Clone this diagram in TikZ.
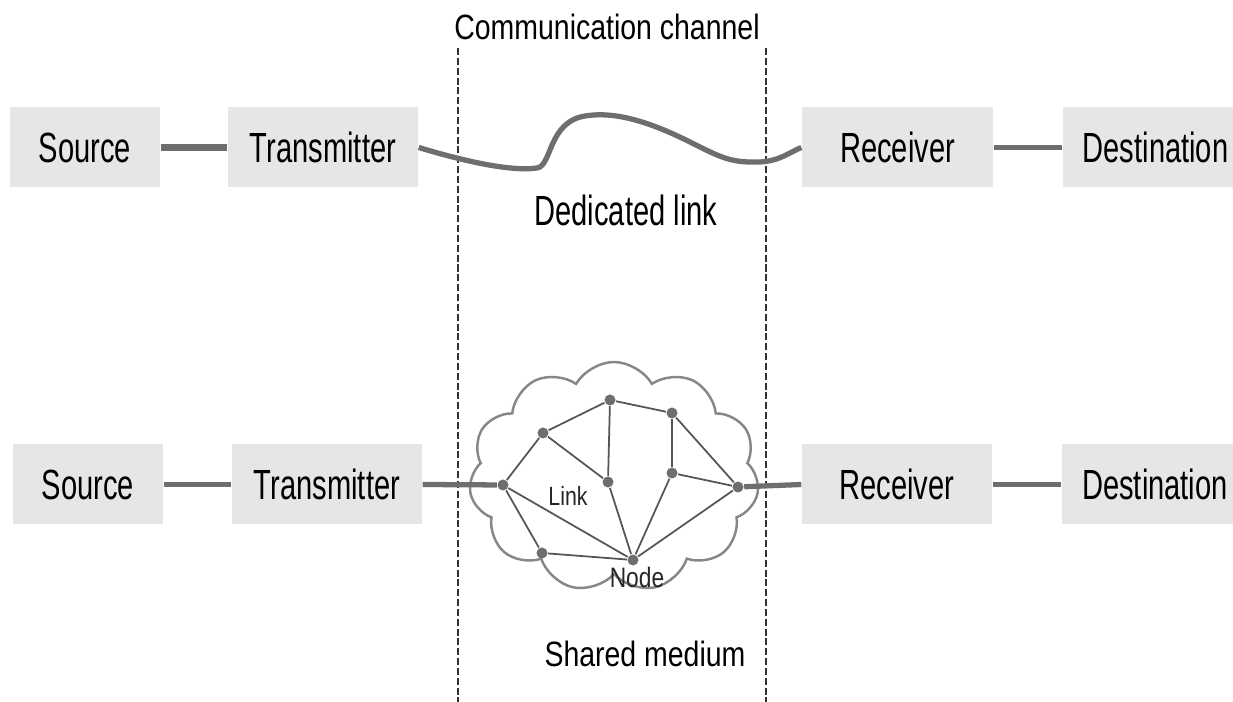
\documentclass[tikz,border=0pt]{standalone}
\usepackage{fontspec}
\setmainfont{Liberation Sans}
\newfontfamily\boxfont[FakeStretch=0.69]{Liberation Sans}
\newfontfamily\capfont[FakeStretch=0.81]{Liberation Sans}
\usepackage{tikz}
\usetikzlibrary{calc}
\usetikzlibrary{shapes}
\usetikzlibrary{positioning}
\usetikzlibrary{shapes.symbols}

\definecolor{boxgray}{RGB}{230,230,230}
\definecolor{wiregray}{RGB}{110,110,110}
\definecolor{cloudgray}{RGB}{135,135,135}
\definecolor{netgray}{RGB}{85,85,85}

\tikzset{
 unit/.style={rectangle, fill=boxgray, minimum height=0.80cm, inner sep=0pt,
   font=\boxfont\fontsize{12}{14}\selectfont, text=black},
 wire/.style={draw=wiregray, line width=1.5pt},
 hop/.style={circle, fill=wiregray, minimum size=0.11cm, inner sep=0pt},
 edge/.style={draw=netgray, line width=0.5pt},
 channel/.style={draw=black!80, line width=0.6pt, dash pattern=on 2pt off 0.8pt},
}

\begin{document}
\begin{tikzpicture}
 \useasboundingbox (0,0) rectangle (12.33,7.02);
 % channel borders
 \draw [channel] (4.58, 6.54) -- (4.58, 0);
 \draw [channel] (7.66, 6.54) -- (7.66, 0);
 \node [font=\capfont\fontsize{10}{12}\selectfont, text=black] (chan) at (6.07, 6.75) {Communication channel};

 % dedicated link
 \node [unit, minimum width=1.50cm] (srca) at (0.85, 5.545) {Source};
 \node [unit, minimum width=1.90cm] (txa) at (3.23, 5.545) {Transmitter};
 \node [unit, minimum width=1.91cm] (rxa) at (8.975, 5.545) {Receiver};
 \node [unit, minimum width=1.70cm] (dsta) at (11.48, 5.545) {\hspace{0.15cm}Destination};
 \draw [wire, line width=2pt] (srca) to (txa);
 \draw [wire] (rxa) to (dsta);
 \draw [wire] (txa.east) .. controls (4.6, 5.42) and (5.1, 5.30) .. (5.37, 5.34)
   .. controls (5.52, 5.36) and (5.48, 5.80) .. (5.85, 5.86)
   .. controls (6.15, 5.91) and (6.5, 5.80) .. (6.9, 5.60)
   .. controls (7.2, 5.45) and (7.3, 5.39) .. (7.6, 5.40)
   .. controls (7.8, 5.41) and (7.9, 5.50) .. (rxa.west);
 \node [font=\boxfont\fontsize{12}{14}\selectfont, text=black] (dlink) at (6.26, 4.92) {Dedicated link};

 % shared medium
 \node [unit, minimum width=1.50cm] (srcb) at (0.88, 2.175) {Source};
 \node [unit, minimum width=1.90cm] (txb) at (3.27, 2.175) {Transmitter};
 \node [unit, minimum width=1.90cm] (rxb) at (8.97, 2.175) {Receiver};
 \node [unit, minimum width=1.71cm] (dstb) at (11.475, 2.175) {\hspace{0.15cm}Destination};
 \node [cloud, draw=cloudgray, line width=0.7pt, cloud puffs=11, cloud puff arc=120,
   aspect=1.25, minimum width=2.9cm, minimum height=2.3cm] (cld) at (6.14, 2.25) {};
 \node [hop] (A) at (5.03, 2.17) {};
 \node [hop] (B) at (5.43, 2.69) {};
 \node [hop] (C) at (6.10, 3.02) {};
 \node [hop] (D) at (6.72, 2.89) {};
 \node [hop] (E) at (6.08, 2.20) {};
 \node [hop] (F) at (6.72, 2.29) {};
 \node [hop] (G) at (7.38, 2.15) {};
 \node [hop] (H) at (5.42, 1.49) {};
 \node [hop] (N) at (6.33, 1.42) {};
 \foreach \a/\b in {A/B, B/C, C/D, B/E, C/E, D/F, D/G, F/G, A/H, A/N, H/N, E/N, F/N, G/N}
   \draw [edge] (\a) to (\b);
 \draw [wire] (srcb) to (txb);
 \draw [wire] (txb.east) to (A);
 \draw [wire] (G) to (rxb.west);
 \draw [wire] (rxb) to (dstb);
 \node [font=\capfont\fontsize{7.5}{9}\selectfont, text=black!85] (lnk) at (5.68, 2.06) {Link};
 \node [font=\capfont\fontsize{8}{9}\selectfont, text=black!85] (nd) at (6.37, 1.25) {Node};
 \node [font=\capfont\fontsize{10}{12}\selectfont, text=black] (shm) at (6.45, 0.48) {Shared medium};
\end{tikzpicture}
\end{document}
